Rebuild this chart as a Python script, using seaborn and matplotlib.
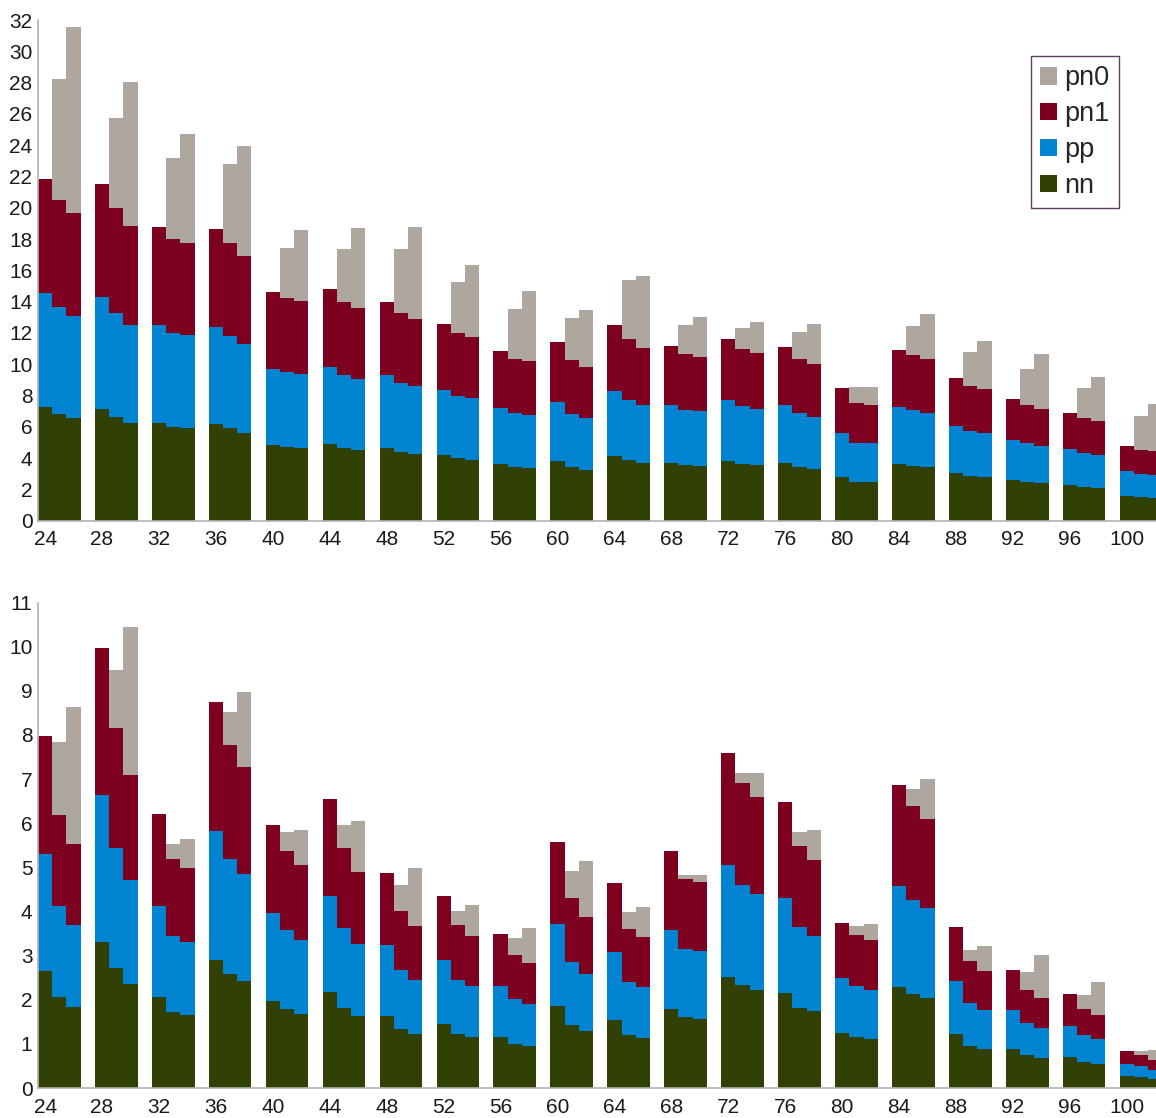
import numpy as np
import pandas as pd
import matplotlib
matplotlib.use("Agg")
import matplotlib.pyplot as plt
import seaborn as sns
from matplotlib.patches import Patch

# Mass numbers: three adjacent bars per group, groups every 4
x_vals = [a + k for a in range(24, 101, 4) for k in range(3)]
x_ticks = list(range(24, 101, 4))

# Upper panel components (nn, pp, pn1, pn0) per bar
top_nn = [7.27, 6.82, 6.58, 7.14, 6.63, 6.24, 6.24, 6.00, 5.92, 6.18, 5.92, 5.60,
          4.83, 4.70, 4.65, 4.90, 4.65, 4.52, 4.65, 4.39, 4.26, 4.20, 4.00, 3.88,
          3.62, 3.43, 3.37, 3.82, 3.43, 3.24, 4.14, 3.88, 3.69, 3.69, 3.56, 3.50,
          3.82, 3.62, 3.56, 3.69, 3.43, 3.30, 2.79, 2.47, 2.47, 3.62, 3.50, 3.43,
          3.05, 2.86, 2.79, 2.60, 2.47, 2.41, 2.28, 2.15, 2.09, 1.58, 1.51, 1.45]
top_pp = [7.28, 6.86, 6.50, 7.16, 6.64, 6.26, 6.27, 6.00, 5.95, 6.20, 5.88, 5.69,
          4.87, 4.80, 4.75, 4.92, 4.66, 4.54, 4.66, 4.41, 4.35, 4.15, 3.97, 3.97,
          3.58, 3.45, 3.38, 3.77, 3.39, 3.32, 4.15, 3.84, 3.71, 3.71, 3.52, 3.50,
          3.90, 3.71, 3.58, 3.71, 3.45, 3.33, 2.81, 2.49, 2.49, 3.65, 3.58, 3.45,
          3.00, 2.87, 2.81, 2.56, 2.49, 2.36, 2.30, 2.18, 2.11, 1.60, 1.47, 1.50]
top_pn1 = [7.29, 6.82, 6.59, 7.22, 6.71, 6.35, 6.26, 5.99, 5.88, 6.26, 5.95, 5.61,
           4.90, 4.75, 4.65, 4.98, 4.67, 4.54, 4.67, 4.47, 4.28, 4.22, 4.03, 3.89,
           3.65, 3.46, 3.46, 3.83, 3.46, 3.26, 4.22, 3.90, 3.64, 3.77, 3.58, 3.47,
           3.90, 3.65, 3.58, 3.70, 3.46, 3.39, 2.88, 2.57, 2.44, 3.64, 3.51, 3.46,
           3.07, 2.88, 2.82, 2.62, 2.44, 2.37, 2.30, 2.23, 2.17, 1.59, 1.54, 1.50]
top_pn0 = [0.00, 7.73, 11.88, 0.00, 5.76, 9.19, 0.00, 5.21, 6.99, 0.00, 5.05, 7.05,
           0.00, 3.15, 4.52, 0.00, 3.37, 5.09, 0.00, 4.08, 5.91, 0.00, 3.24, 4.60,
           0.00, 3.19, 4.47, 0.00, 2.68, 3.65, 0.00, 3.75, 4.59, 0.00, 1.85, 2.55,
           0.00, 1.34, 1.98, 0.00, 1.72, 2.55, 0.00, 1.02, 1.15, 0.00, 1.85, 2.87,
           0.00, 2.17, 3.07, 0.00, 2.30, 3.52, 0.00, 1.92, 2.81, 0.00, 2.17, 3.01]

# Lower panel components (nn, pp, pn1, pn0) per bar
bot_nn = [2.65, 2.06, 1.84, 3.31, 2.72, 2.36, 2.06, 1.72, 1.65, 2.90, 2.58, 2.42,
          1.97, 1.79, 1.68, 2.17, 1.81, 1.63, 1.63, 1.34, 1.22, 1.45, 1.22, 1.16,
          1.16, 1.00, 0.95, 1.86, 1.43, 1.29, 1.54, 1.20, 1.13, 1.79, 1.61, 1.56,
          2.51, 2.33, 2.22, 2.15, 1.81, 1.74, 1.25, 1.16, 1.11, 2.29, 2.13, 2.04,
          1.22, 0.95, 0.88, 0.88, 0.75, 0.68, 0.70, 0.59, 0.54, 0.27, 0.25, 0.20]
bot_pp = [2.65, 2.06, 1.85, 3.33, 2.72, 2.35, 2.06, 1.72, 1.66, 2.92, 2.61, 2.43,
          1.99, 1.79, 1.67, 2.18, 1.81, 1.63, 1.61, 1.33, 1.23, 1.45, 1.23, 1.15,
          1.15, 1.02, 0.95, 1.86, 1.42, 1.29, 1.54, 1.20, 1.16, 1.79, 1.54, 1.54,
          2.54, 2.27, 2.18, 2.15, 1.84, 1.70, 1.24, 1.15, 1.11, 2.29, 2.13, 2.04,
          1.20, 0.98, 0.89, 0.89, 0.72, 0.68, 0.70, 0.61, 0.57, 0.27, 0.25, 0.21]
bot_pn1 = [2.67, 2.06, 1.84, 3.33, 2.72, 2.38, 2.09, 1.75, 1.67, 2.92, 2.58, 2.42,
           2.00, 1.79, 1.70, 2.20, 1.82, 1.63, 1.63, 1.34, 1.22, 1.45, 1.24, 1.13,
           1.18, 0.99, 0.93, 1.85, 1.45, 1.29, 1.56, 1.20, 1.13, 1.79, 1.58, 1.57,
           2.54, 2.31, 2.19, 2.18, 1.83, 1.73, 1.25, 1.16, 1.13, 2.28, 2.13, 2.01,
           1.23, 0.95, 0.88, 0.90, 0.75, 0.68, 0.73, 0.59, 0.54, 0.30, 0.25, 0.22]
bot_pn0 = [0.00, 1.66, 3.10, 0.00, 1.31, 3.35, 0.00, 0.34, 0.66, 0.00, 0.75, 1.70,
           0.00, 0.43, 0.79, 0.00, 0.52, 1.16, 0.00, 0.59, 1.31, 0.00, 0.32, 0.71,
           0.00, 0.39, 0.79, 0.00, 0.62, 1.27, 0.00, 0.39, 0.68, 0.00, 0.10, 0.16,
           0.00, 0.23, 0.55, 0.00, 0.32, 0.67, 0.00, 0.20, 0.37, 0.00, 0.38, 0.91,
           0.00, 0.25, 0.57, 0.00, 0.41, 0.97, 0.00, 0.32, 0.75, 0.00, 0.09, 0.23]

series = ["nn", "pp", "pn1", "pn0"]
colors = {"nn": "#314004", "pp": "#0084d1", "pn1": "#7e0021", "pn0": "#aea79f"}

sns.set_theme(style="white")
plt.rcParams["font.family"] = ["Liberation Sans", "DejaVu Sans"]

fig = plt.figure(figsize=(11.56, 11.18), dpi=100)
ax_top = fig.add_axes([38 / 1156, 1 - 520.7 / 1118, 1 - 38 / 1156, (520.7 - 20) / 1118])
ax_bot = fig.add_axes([38 / 1156, 1 - 1088 / 1118, 1 - 38 / 1156, (1088 - 602.5) / 1118])


def draw_panel(ax, comps, ymax, yticks):
    df = pd.DataFrame(dict(zip(series, comps)), index=x_vals)
    bottom = np.zeros(len(df))
    for name in series:
        vals = df[name].to_numpy()
        ax.bar(df.index, vals, bottom=bottom, width=1.0, color=colors[name],
               linewidth=0, label=name)
        bottom = bottom + vals
    ax.set_xlim(23.5, 102.05)
    ax.set_ylim(0, ymax)
    ax.set_xticks(x_ticks)
    ax.set_yticks(yticks)
    ax.tick_params(axis="both", length=0, labelsize=15, labelcolor="#1a1a1a")
    ax.tick_params(axis="x", pad=7)
    ax.tick_params(axis="y", pad=4)
    sns.despine(ax=ax, top=True, right=True)
    for side in ("left", "bottom"):
        ax.spines[side].set_color("#b3b3b3")
        ax.spines[side].set_linewidth(1.2)
    ax.grid(False)


draw_panel(ax_top, [top_nn, top_pp, top_pn1, top_pn0], 32, list(range(0, 33, 2)))
draw_panel(ax_bot, [bot_nn, bot_pp, bot_pn1, bot_pn0], 11, list(range(0, 12, 1)))

handles = [Patch(facecolor=colors[s], edgecolor="none", label=s) for s in reversed(series)]
leg = ax_top.legend(handles=handles, loc="upper right",
                    bbox_to_anchor=((1119 - 38) / 1118, (520.7 - 56) / 500.7),
                    borderaxespad=0, fontsize=19.5, frameon=True, fancybox=False,
                    handlelength=0.6, handleheight=0.6, handletextpad=0.28,
                    labelspacing=0.36, borderpad=0.35)
leg.get_frame().set_edgecolor("#3b0b38")
leg.get_frame().set_linewidth(1.0)

fig.savefig("out.png", dpi=100)
